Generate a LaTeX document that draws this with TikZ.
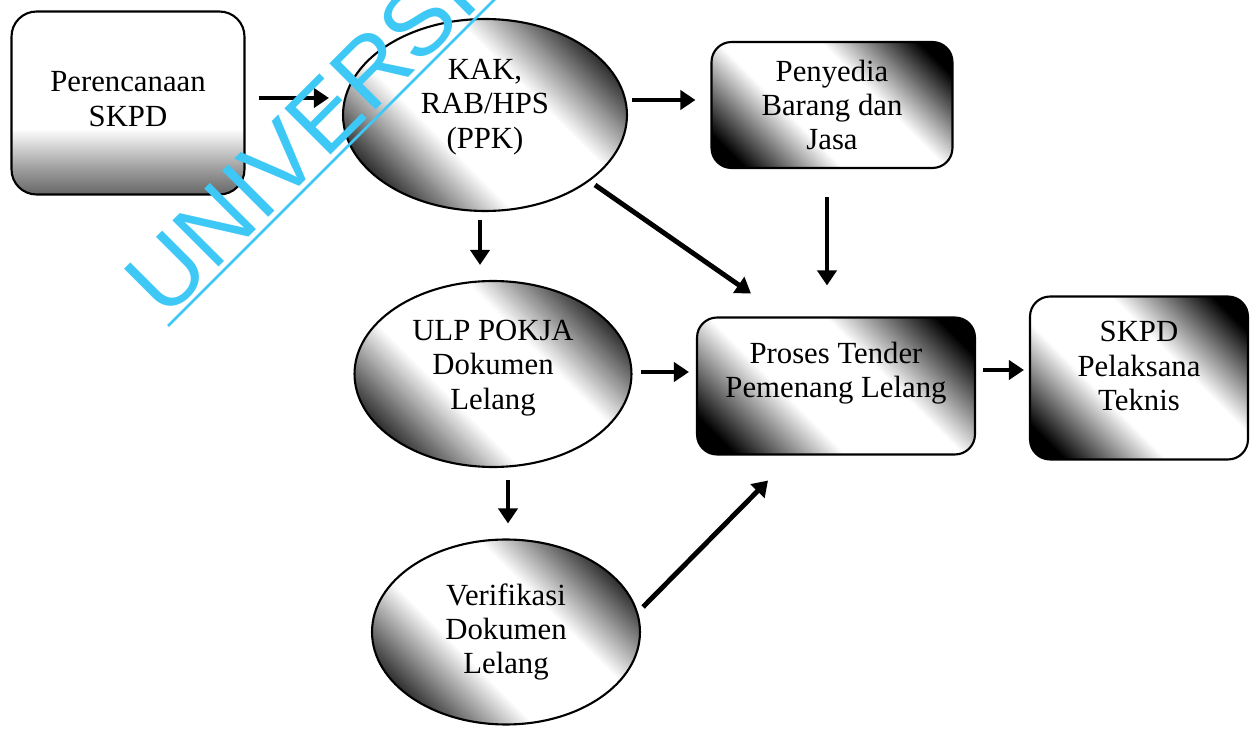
\documentclass[tikz,border=0pt]{standalone}
\usepackage{fontspec}
\setmainfont{Liberation Serif}
\setsansfont{Liberation Sans}
\usetikzlibrary{arrows.meta,calc,shapes.geometric}

% fond : noir aux coins, bande blanche en diagonale
\pgfdeclarehorizontalshading{bande}{100bp}{color(0bp)=(black); color(21bp)=(black); color(40bp)=(white); color(60bp)=(white); color(79bp)=(black); color(100bp)=(black)}
% fond : blanc en haut, gris en bas
\pgfdeclareverticalshading{grisbas}{100bp}{color(0bp)=(black!70); color(25bp)=(black!60); color(33bp)=(black!35); color(43bp)=(white); color(100bp)=(white)}
\definecolor{bleucyan}{RGB}{62,200,246}

\begin{document}
\begin{tikzpicture}[x=0.02cm,y=-0.02cm,
  texte/.style={align=center,font=\fontsize{17.5}{19.5}\selectfont},
  kotak/.style={texte,draw,line width=1.2pt,rounded corners=0.4cm,shading=bande,shading angle=45},
  elips/.style={texte,draw,line width=1.2pt,ellipse,inner sep=0pt,shading=bande,shading angle=45},
  panah/.style={line width=2.8pt,-{Triangle[length=0.3cm,width=0.38cm]}}]

\useasboundingbox (0,0) rectangle (1255,729);

% Les boites (text depth remonte le texte dans la forme)
\node[kotak,shading=grisbas,shading angle=0,rounded corners=0.5cm,text depth=4.5pt,minimum width=4.66cm,minimum height=3.66cm] (plan) at (128,103) {Perencanaan\\SKPD};
\node[elips,text depth=12.8pt,minimum width=5.68cm,minimum height=3.84cm] (kak) at (485,115) {KAK,\\RAB/HPS\\(PPK)};
\node[kotak,minimum width=4.82cm,minimum height=2.52cm] (penyedia) at (832,105) {Penyedia\\Barang dan\\Jasa};
\node[elips,text depth=10.5pt,minimum width=5.54cm,minimum height=3.72cm] (ulp) at (493,374) {ULP POKJA\\Dokumen\\Lelang};
\node[kotak,text depth=18.5pt,minimum width=5.56cm,minimum height=2.74cm] (tender) at (836,386) {Proses Tender\\Pemenang Lelang};
\node[kotak,text depth=13.7pt,minimum width=4.36cm,minimum height=3.26cm] (pelaksana) at (1139,378) {SKPD\\Pelaksana\\Teknis};
\node[elips,minimum width=5.36cm,minimum height=3.7cm] (verif) at (506,632) {Verifikasi\\Dokumen\\Lelang};

% Les fleches
\draw[panah] ($(plan.east)+(13,-5)$) -- ($(kak.west)+(-13,-17)$);
\draw[panah] ($(kak.east)+(4,-15)$) -- ($(penyedia.west)+(-15,-5)$);
\draw[panah] ($(kak.south)+(-5,8)$) -- ($(ulp.north)+(-13,-15)$);
\draw[panah] ($(kak.center)+(110,70)$) -- ($(tender.north west)+(55,-23)$);
\draw[panah] ($(penyedia.south)+(-5,28)$) -- ($(tender.north)+(-9,-31)$);
\draw[panah] ($(ulp.east)+(8,-2)$) -- ($(tender.west)+(-7,-14)$);
\draw[panah] ($(tender.east)+(7,-16)$) -- ($(pelaksana.west)+(-5,-8)$);
\draw[panah] ($(ulp.south)+(15,12)$) -- ($(verif.north)+(2,-15)$);
\draw[panah] ($(verif.east)+(2,-25)$) -- ($(tender.south)+(-68,25)$);

% Filigrane
\node[font=\sffamily\fontsize{54}{54}\selectfont,text=bleucyan,rotate=45,anchor=base west,inner sep=0pt] (filigrane) at (165,321) {UNIVERSI};
\draw[bleucyan,line width=1.5pt] (168,326) -- (500,-6);

\end{tikzpicture}
\end{document}
